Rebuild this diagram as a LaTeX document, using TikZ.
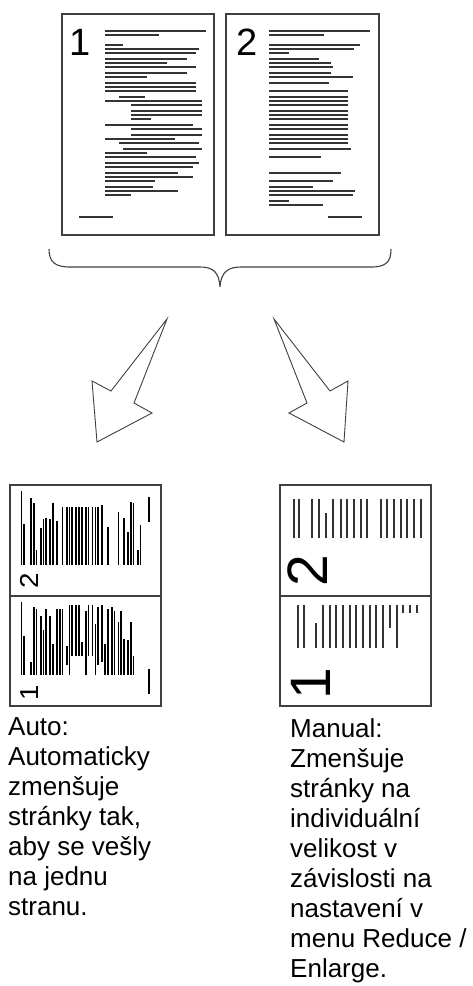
\documentclass[tikz,border=0pt]{standalone}
\usepackage{fontspec}
\setmainfont{Liberation Sans}
\usepackage{xcolor}
\colorlet{colInk}{black!80}
\colorlet{colFrame}{black!75}
\usepackage{tikz}
\usetikzlibrary{arrows.meta, positioning, calc}

\tikzset{
  textline/.style={line width=1.3pt, colInk},
  sheet/.style={draw=colFrame, line width=1.4pt},
  pagenum/.style={inner sep=0pt, black, font=\fontsize{38}{38}\selectfont},
  bignum/.style={inner sep=0pt, black, font=\fontsize{57}{57}\selectfont},
  caption/.style={inner sep=0pt, align=left, font=\fontsize{26}{30}\selectfont},
  blockarrow/.style={draw=black!75, line width=0.9pt, line join=miter},
}

% page contents, measured from the top left corner of the sheet (y down)
\newcommand{\pageonelines}[1]{%
  \foreach \y/\a/\b in {17/43/144, 21/43/97, 31/43/61, 35/43/137, 39/43/134,
      45/43/125, 49/43/105, 53/43/134, 59/43/125, 63/43/85, 69/43/134,
      73/43/134, 77/43/134, 83/57/83, 87/43/140, 91/69/140, 97/69/140,
      101/69/140, 105/69/89, 111/43/131, 115/69/140, 121/69/140, 125/43/113,
      129/57/137, 135/61/140, 139/43/85, 143/43/134, 149/43/137, 153/43/131,
      159/43/116, 163/43/131, 167/43/93, 173/43/91, 177/43/116, 181/43/69,
      203/17/51}
    \draw[textline] (\a,\y) -- (\b,\y);
  \node[pagenum, anchor=base west] (#1) at (7,41) {1};
}
\newcommand{\pagetwolines}[1]{%
  \foreach \y/\a/\b in {17/43/144, 21/43/98, 31/43/134, 35/43/128, 39/43/63,
      45/43/93, 49/43/105, 53/43/107, 59/43/105, 63/43/127, 69/43/103,
      77/43/122, 83/43/122, 87/43/122, 91/43/122, 97/43/122, 101/43/122,
      105/43/122, 111/43/122, 115/43/122, 121/43/122, 125/43/122, 129/43/122,
      135/43/125, 143/43/95, 159/43/115, 167/43/107, 173/43/87, 177/43/129,
      181/43/127, 187/43/63, 191/43/97, 203/102/136}
    \draw[textline] (\a,\y) -- (\b,\y);
  \node[pagenum, anchor=base west] (#1) at (10,41) {2};
}

\begin{document}
\begin{tikzpicture}[x=1pt, y=-1pt]
  \useasboundingbox (0,0) rectangle (472,986);

  % two original pages
  \draw[sheet] (62,14) rectangle (214,235);
  \draw[sheet] (226,14) rectangle (379,235);
  \begin{scope}[shift={(62,14)}]
    \pageonelines{origone}
  \end{scope}
  \begin{scope}[shift={(226,14)}]
    \pagetwolines{origtwo}
  \end{scope}

  % brace
  \draw[line width=1.1pt, colFrame] (49,249) .. controls (49,262) and (55,267) .. (70,267)
    -- (200,267) .. controls (213,267) and (219,272) .. (220,287)
    .. controls (221,272) and (228,267) .. (241,267) -- (371,267)
    .. controls (386,267) and (391,262) .. (391,249);

  % block arrows
  \draw[blockarrow] (167,319) -- (111,391) -- (92,381) -- (97,442) -- (152,413) -- (134,403) -- cycle;
  \draw[blockarrow] (274,319) -- (330,391) -- (348,381) -- (344,442) -- (289,413) -- (307,403) -- cycle;

  % Auto: both pages squeezed onto one sheet
  \draw[sheet] (10,485) rectangle (161,706);
  \draw[sheet] (10,596) -- (161,596);
  \begin{scope}[cm={0,0.730,-0.683,0,(10,596)}, transform shape,
      textline/.append style={line width=1.7pt, black}]
    \pagetwolines{autotwo}
  \end{scope}
  \begin{scope}[cm={0,0.724,-0.683,0,(10,706)}, transform shape,
      textline/.append style={line width=1.7pt, black}]
    \pageonelines{autoone}
  \end{scope}

  % Manual
  \draw[sheet] (280,485) rectangle (431,706);
  \draw[sheet] (280,596) -- (431,596);
  \foreach \x in {294,299,312,319,333,341,347,354,361,367,381,387,394,401,407,414,421}
    \draw[textline] (\x,499) -- (\x,538);
  \draw[textline] (326,513) -- (326,538);
  \foreach \x in {298,304,323,330,336,343,350,356,363,370,376,383,397}
    \draw[textline] (\x,605) -- (\x,648);
  \draw[textline] (316,623) -- (316,648);
  \draw[textline] (390,605) -- (390,628);
  \foreach \x in {403,410,417}
    \draw[textline] (\x,605) -- (\x,613);
  \node[bignum, rotate=90] (mantwo) at (308,571) {2};
  \node[bignum, rotate=90] (manone) at (311,684) {1};

  % captions
  \node[caption, anchor=north west] (autonote) at (8,717)
    {Auto:\\Automaticky\\zmenšuje\\stránky tak,\\aby se vešly\\na jednu\\stranu.};
  \node[caption, anchor=north west] (manualnote) at (290,718)
    {Manual:\\Zmenšuje\\stránky na\\individuální\\velikost v\\závislosti na\\nastavení v\\menu Reduce /\\Enlarge.};
\end{tikzpicture}
\end{document}
